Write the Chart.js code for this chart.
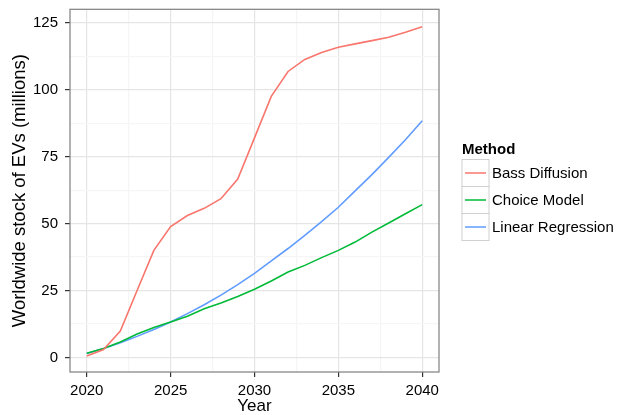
<!DOCTYPE html>
<html>
<head>
<meta charset="utf-8">
<script src="https://cdn.jsdelivr.net/npm/chart.js@4.4.0/dist/chart.umd.min.js"></script>
<style>
  html,body{margin:0;padding:0;background:#fff;}
  #wrap{width:617px;height:415px;position:relative;}
</style>
</head>
<body>
<div id="wrap"><canvas id="chart"></canvas></div>
<script>
const FONT = "'Liberation Sans', Arial, Helvetica, sans-serif";

// ========== Data ==========
const years = [2020,2021,2022,2023,2024,2025,2026,2027,2028,2029,2030,
               2031,2032,2033,2034,2035,2036,2037,2038,2039,2040];
const bassDiffusion = [0.6,3.0,9.9,25,40,48.9,53,55.7,59.3,66.6,82,
                       97.5,106.8,111.3,113.9,115.8,117.1,118.3,119.6,121.4,123.5];
const choiceModel = [1.6,3.4,5.8,8.8,11.2,13.3,15.4,18.2,20.4,22.8,25.5,
                     28.6,31.9,34.4,37.3,40,43.1,46.8,50.2,53.7,57.1];
const linearRegression = [1.5,3.4,5.5,7.9,10.5,13.3,16.4,19.7,23.3,27.2,31.4,
                          36.1,40.7,45.6,50.7,56.1,62.2,68.3,74.7,81.3,88.4];
const seriesNames = ['Bass Diffusion','Choice Model','Linear Regression'];
const seriesColors = ['#F8766D','#00BA38','#619CFF'];

const xMajor = [2020,2025,2030,2035,2040];
const xMinor = [2022.5,2027.5,2032.5,2037.5];
const yMajor = [0,25,50,75,100,125];
const yMinor = [12.5,37.5,62.5,87.5,112.5];

function toPoints(vals){ return years.map((y,i)=>({x:y,y:vals[i]})); }

function setTicks(major, minor){
  return scale => {
    scale.ticks = major.concat(minor).sort((a,b)=>a-b).map(v=>({value:v}));
  };
}
const isMajor = (list, v) => list.includes(v);

// ========== Panel border + legend ==========
const panelPlugin = {
  id:'panel',
  afterDatasetsDraw(chart){
    const {ctx, chartArea:a} = chart;
    ctx.save();
    ctx.strokeStyle = '#7f7f7f';
    ctx.lineWidth = 1.2;
    ctx.strokeRect(a.left, a.top, a.right-a.left, a.bottom-a.top);
    ctx.restore();
  },
  afterDraw(chart){
    const ctx = chart.ctx;
    ctx.save();
    ctx.fillStyle = '#000';
    ctx.font = 'bold 15px ' + FONT;
    ctx.textBaseline = 'alphabetic';
    ctx.fillText('Method', 462, 154);
    const boxX = 462, boxW = 27, boxH = 27, top0 = 159.5;
    chart.data.datasets.forEach((ds,i)=>{
      const top = top0 + i*boxH;
      ctx.fillStyle = '#fff';
      ctx.fillRect(boxX, top, boxW, boxH);
      ctx.strokeStyle = '#d0d0d0';
      ctx.lineWidth = 1;
      ctx.strokeRect(boxX, top, boxW, boxH);
      ctx.strokeStyle = ds.borderColor;
      ctx.lineWidth = 1.5;
      ctx.beginPath();
      ctx.moveTo(boxX+3, top+boxH/2);
      ctx.lineTo(boxX+boxW-3, top+boxH/2);
      ctx.stroke();
      ctx.fillStyle = '#000';
      ctx.font = '15px ' + FONT;
      ctx.textBaseline = 'middle';
      ctx.fillText(ds.label, boxX+boxW+3, top+boxH/2+1);
    });
    ctx.restore();
  }
};

// ========== Chart ==========
const chart = new Chart(document.getElementById('chart'),{
  type:'line',
  data:{
    datasets:[bassDiffusion,choiceModel,linearRegression].map((vals,i)=>({
      label:seriesNames[i],
      data:toPoints(vals),
      borderColor:seriesColors[i],
      backgroundColor:seriesColors[i],
      borderWidth:1.6,
      pointRadius:0,
      tension:0,
      fill:false
    }))
  },
  options:{
    responsive:true,
    maintainAspectRatio:false,
    animation:false,
    layout:{padding:{left:0,top:9.3,right:178,bottom:0}},
    plugins:{legend:{display:false},tooltip:{enabled:false}},
    scales:{
      x:{
        type:'linear',
        min:2019,max:2041,
        afterBuildTicks:setTicks(xMajor,xMinor),
        afterFit:s=>{ s.height = 43; s.paddingLeft = 0; s.paddingRight = 0; },
        border:{display:false},
        grid:{
          color:c=>isMajor(xMajor,c.tick.value)?'#e5e5e5':'#f5f5f5',
          lineWidth:1.2,
          tickLength:5,
          tickColor:c=>isMajor(xMajor,c.tick.value)?'#333':'rgba(0,0,0,0)',
          tickWidth:1.2
        },
        ticks:{
          color:'#000',
          font:{family:FONT,size:15},
          padding:5,
          maxRotation:0,
          autoSkip:false,
          callback:v=>isMajor(xMajor,v)?String(v):''
        },
        title:{display:true,text:'Year',color:'#000',
               font:{family:FONT,size:17,lineHeight:1},padding:{top:0,bottom:0}}
      },
      y:{
        min:-5.4,max:130,
        afterBuildTicks:setTicks(yMajor,yMinor),
        afterFit:s=>{ s.width = 70; s.paddingTop = 0; s.paddingBottom = 0; },
        border:{display:false},
        grid:{
          color:c=>isMajor(yMajor,c.tick.value)?'#e5e5e5':'#f5f5f5',
          lineWidth:1.2,
          tickLength:5,
          tickColor:c=>isMajor(yMajor,c.tick.value)?'#333':'rgba(0,0,0,0)',
          tickWidth:1.2
        },
        ticks:{
          color:'#000',
          font:{family:FONT,size:15},
          padding:7,
          autoSkip:false,
          callback:v=>isMajor(yMajor,v)?String(v):''
        },
        title:{display:true,text:'Worldwide stock of EVs (millions)',color:'#000',
               font:{family:FONT,size:18.5,lineHeight:1},padding:{top:11,bottom:0}}
      }
    }
  },
  plugins:[panelPlugin]
});
</script>
</body>
</html>
